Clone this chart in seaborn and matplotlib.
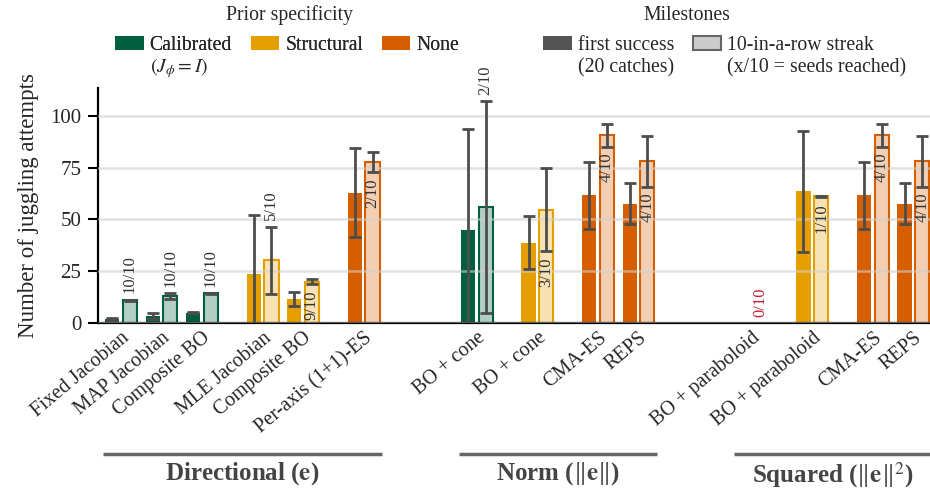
import numpy as np
import pandas as pd
import matplotlib
matplotlib.use("Agg")
import matplotlib.pyplot as plt
import matplotlib.transforms as mtransforms
from matplotlib.patches import Patch
import seaborn as sns

# ---- data ----
methods = ["Fixed Jacobian", "MAP Jacobian", "Composite BO", "MLE Jacobian",
           "Composite BO", "Per-axis (1+1)-ES", "BO + cone", "BO + cone",
           "CMA-ES", "REPS", "BO + paraboloid", "BO + paraboloid", "CMA-ES", "REPS"]
priors = ["Calibrated", "Calibrated", "Calibrated", "Structural", "Structural", "None",
          "Calibrated", "Structural", "None", "None",
          "Calibrated", "Structural", "None", "None"]
objectives = ["Directional"] * 6 + ["Norm"] * 4 + ["Squared"] * 4
first_mean = [2.0, 3.4, 5.0, 23.5, 11.7, 63.0, 45.0, 38.8, 61.8, 57.6, np.nan, 63.6, 61.8, 57.6]
first_std = [0.4, 1.3, 0.3, 28.5, 3.4, 21.5, 48.6, 12.7, 16.2, 10.0, np.nan, 29.1, 16.2, 10.0]
streak_mean = [11.0, 13.0, 14.3, 30.3, 20.0, 77.8, 56.0, 54.8, 90.7, 78.2, np.nan, 61.2, 90.7, 78.2]
streak_std = [0.3, 1.4, 0.3, 16.3, 1.3, 4.8, 51.0, 20.2, 5.5, 12.3, np.nan, 0.3, 5.5, 12.3]
seeds_reached = [10, 10, 10, 5, 9, 2, 2, 3, 4, 4, 0, 1, 4, 4]

group_titles = {"Directional": r"Directional ($\mathbf{e}$)",
                "Norm": r"Norm ($\|\mathbf{e}\|$)",
                "Squared": r"Squared ($\|\mathbf{e}\|^2$)"}
prior_order = ["Calibrated", "Structural", "None"]
prior_notes = [r"$(J_\phi = I)$", "", ""]
milestone_labels = ["first success", "10-in-a-row streak"]
milestone_notes = ["(20 catches)", "(x/10 = seeds reached)"]

prior_colors = {"Calibrated": "#005f3f", "Structural": "#e69f00", "None": "#d55e00"}
ALPHA = 0.3


def lighten(c, a=ALPHA):
    r = np.array(matplotlib.colors.to_rgb(c))
    return tuple(a * r + (1 - a))


light_colors = {k: lighten(v) for k, v in prior_colors.items()}

# x layout: 1 between same prior, 1.5 between priors, 2.8 between objectives
pos = []
x = 0.0
for i in range(len(methods)):
    if i > 0:
        if objectives[i] != objectives[i - 1]:
            x += 2.8
        elif priors[i] != priors[i - 1]:
            x += 1.5
        else:
            x += 1.0
    pos.append(x)
pos = np.array(pos)
off = 0.22

df = pd.DataFrame({"method": methods, "prior": priors, "objective": objectives,
                   "pos": pos, "first_mean": first_mean, "first_std": first_std,
                   "streak_mean": streak_mean, "streak_std": streak_std,
                   "seeds": seeds_reached})

sns.set_theme(style="white")
plt.rcParams["font.family"] = ["Liberation Serif", "DejaVu Serif"]
plt.rcParams["mathtext.fontset"] = "stix"

fig = plt.figure(figsize=(9.3, 4.91), dpi=100)
ax = fig.add_axes([98 / 930, 168 / 491, 832 / 930, 235 / 491])

first = df.dropna(subset=["first_mean"]).assign(x=lambda d: d.pos - off)
streak = df.dropna(subset=["streak_mean"]).assign(x=lambda d: d.pos + off)

sns.barplot(data=first, x="x", y="first_mean", hue="prior", hue_order=prior_order,
            palette=prior_colors, native_scale=True, dodge=False, width=0.35,
            errorbar=None, saturation=1, legend=False, linewidth=0, orient="x", ax=ax)
n_first = len(ax.patches)
sns.barplot(data=streak, x="x", y="streak_mean", hue="prior", hue_order=prior_order,
            palette=light_colors, native_scale=True, dodge=False, width=0.35,
            errorbar=None, saturation=1, legend=False, orient="x", ax=ax)
for p in ax.patches[n_first:]:
    fc = np.array(p.get_facecolor()[:3])
    p.set_edgecolor(np.clip((fc - (1 - ALPHA)) / ALPHA, 0, 1))
    p.set_linewidth(1.5)

ax.errorbar(first.x, first.first_mean, yerr=first.first_std, fmt="none",
            ecolor="#4d4d4d", elinewidth=2, capsize=4, capthick=2, zorder=4)
ax.errorbar(streak.x, streak.streak_mean, yerr=streak.streak_std, fmt="none",
            ecolor="#4d4d4d", elinewidth=2, capsize=4, capthick=2, zorder=4)

# seeds reached labels
for _, r in df.iterrows():
    m = 0 if np.isnan(r.streak_mean) else r.streak_mean
    s = 0 if np.isnan(r.streak_std) else r.streak_std
    lab = f"{int(r.seeds)}/10"
    col = "#c41e3a" if r.seeds == 0 else "#333333"
    if m - s - 3 > 14:
        ax.text(r.pos + off, m - s - 3, lab, rotation=90, ha="center", va="top",
                fontsize=12, color=col, zorder=5)
    else:
        ax.text(r.pos + off, m + s + 3, lab, rotation=90, ha="center", va="bottom",
                fontsize=12, color=col, zorder=5)

ax.set_xlim(-0.57, 20.01)
ax.set_ylim(0, 113.5)
ax.set_yticks([0, 25, 50, 75, 100])
ax.set_xticks(pos)
ax.set_xticklabels(methods, rotation=40, ha="right", rotation_mode="anchor")
ax.set_xlabel("")
ax.set_ylabel("Number of juggling attempts", fontsize=16.5, labelpad=8)
ax.tick_params(axis="x", length=0, pad=4, labelsize=14.5)
ax.tick_params(axis="y", length=7, width=1.5, left=True, direction="out",
               color="black", labelsize=15, pad=5)
ax.yaxis.grid(True, color="#d0d0d0", lw=1.8, alpha=0.6)
ax.set_axisbelow(False)
sns.despine(ax=ax)
for sp in ["left", "bottom"]:
    ax.spines[sp].set_color("black")
    ax.spines[sp].set_linewidth(1.6)

# objective group brackets
trans = mtransforms.blended_transform_factory(ax.transData, ax.transAxes)
for obj, title in group_titles.items():
    p = pos[np.array(objectives) == obj]
    x0, x1 = p.min() - 0.45, p.max() + 0.45
    ax.plot([x0, x1], [-0.557, -0.557], transform=trans, clip_on=False,
            color="#666666", lw=2.5, solid_capstyle="butt")
    ax.text((x0 + x1) / 2, -0.583, title, transform=trans, ha="center", va="top",
            fontsize=18, fontweight="bold", color="#444444")

# legends
prior_handles = [Patch(facecolor=prior_colors[k], edgecolor="none") for k in prior_order]
leg1 = fig.legend(prior_handles, prior_order, ncol=3, loc="upper left",
                  bbox_to_anchor=(115 / 930, 1 - 36 / 491), frameon=False,
                  borderpad=0, borderaxespad=0, handlelength=1.45, handleheight=0.75,
                  handletextpad=0.3, columnspacing=0.95, fontsize=14.2)
ms_handles = [Patch(facecolor="#555555", edgecolor="none"),
              Patch(facecolor="#cccccc", edgecolor="#666666", lw=1.5)]
leg2 = fig.legend(ms_handles, milestone_labels, ncol=2, loc="upper left",
                  bbox_to_anchor=(543 / 930, 1 - 36 / 491), frameon=False,
                  borderpad=0, borderaxespad=0, handlelength=1.45, handleheight=0.75,
                  handletextpad=0.3, columnspacing=0.95, fontsize=14.2)
fig.add_artist(leg1)
fig.text(289 / 930, 1 - 15 / 491, "Prior specificity", ha="center", va="center", fontsize=14.2)
fig.text(687 / 930, 1 - 15 / 491, "Milestones", ha="center", va="center", fontsize=14.2)

fig.canvas.draw()
W, H = fig.bbox.width, fig.bbox.height
for leg, notes in [(leg1, prior_notes), (leg2, milestone_notes)]:
    for t, note in zip(leg.get_texts(), notes):
        if not note:
            continue
        bb = t.get_window_extent()
        base = bb.y0 + 4.4 - 1.12 * 14.2 * 100 / 72
        fig.text(bb.x0 / W, base / H, note, ha="left", va="baseline", fontsize=14.2)

fig.savefig("out.png", dpi=100)
